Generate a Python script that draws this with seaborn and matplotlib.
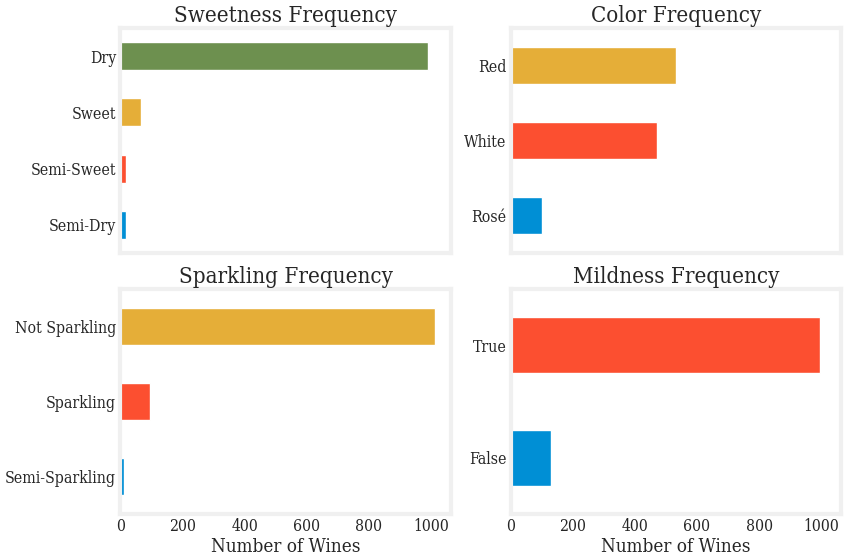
import pandas as pd
import matplotlib.pyplot as plt
import seaborn as sns

# counts (largest first = top bar)
sweetness_labels = ["Dry", "Sweet", "Semi-Sweet", "Semi-Dry"]
sweetness_counts = [989, 66, 18, 17]

color_labels = ["Red", "White", "Rosé"]
color_counts = [532, 471, 101]

sparkling_labels = ["Not Sparkling", "Sparkling", "Semi-Sparkling"]
sparkling_counts = [1011, 95, 11]

mildness_labels = ["True", "False"]
mildness_counts = [997, 130]

# fivethirtyeight colours, bottom bar first
pal538 = ["#008fd5", "#fc4f30", "#e5ae38", "#6d904f"]

sns.set_theme(style="white")
plt.rcParams["font.family"] = ["DejaVu Serif"]
plt.rcParams["font.stretch"] = "condensed"

fig, axes = plt.subplots(2, 2, figsize=(8.48, 5.6), dpi=100, sharex=True)

panels = [
    (axes[0, 0], "Sweetness Frequency", sweetness_labels, sweetness_counts),
    (axes[0, 1], "Color Frequency", color_labels, color_counts),
    (axes[1, 0], "Sparkling Frequency", sparkling_labels, sparkling_counts),
    (axes[1, 1], "Mildness Frequency", mildness_labels, mildness_counts),
]

for ax, title, labels, counts in panels:
    df = pd.DataFrame({"label": labels, "count": counts})
    n = len(labels)
    colors = dict(zip(labels, pal538[:n][::-1]))
    sns.barplot(data=df, x="count", y="label", hue="label", order=labels,
                palette=colors, width=0.5, legend=False, ax=ax, saturation=1)
    ax.set_title(title, fontsize=16, pad=4)
    ax.set_ylabel("")
    ax.set_xlabel("Number of Wines", fontsize=13.5, labelpad=2)
    ax.tick_params(axis="both", length=0, labelsize=11.3, pad=3)
    for s in ax.spines.values():
        s.set_color("#f0f0f0")
        s.set_linewidth(3)
    ax.grid(False)

axes[0, 0].set_xlim(0, 1064)
axes[0, 0].set_xticks([0, 200, 400, 600, 800, 1000])

plt.subplots_adjust(left=0.142, right=0.992, top=0.95, bottom=0.082,
                    wspace=0.18, hspace=0.16)
plt.savefig("out.png", dpi=100)
